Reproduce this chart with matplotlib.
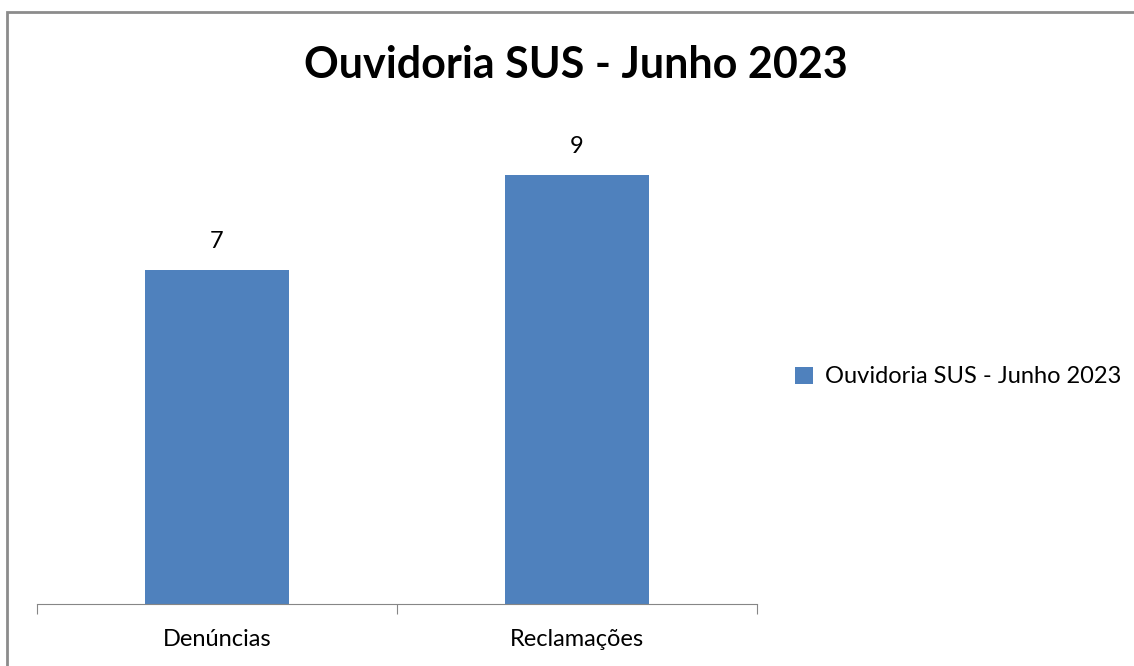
import matplotlib.pyplot as plt
from matplotlib.patches import Rectangle

# dados
categorias = ['Denúncias', 'Reclamações']
valores = [7, 9]
serie = 'Ouvidoria SUS - Junho 2023'

plt.rcParams['font.family'] = ['Lato', 'DejaVu Sans']

fig = plt.figure(figsize=(11.34, 6.66), dpi=100)
# moldura cinza (estilo Excel)
fig.patches.append(Rectangle((7 / 1134, -0.1), 1.2, 1.1 - 12 / 666,
                             transform=fig.transFigure, fill=False,
                             edgecolor='#8c8c8c', linewidth=2))

ax = fig.add_axes([37 / 1134, 62 / 666, 720 / 1134, 477 / 666])
x = range(len(categorias))
barras = ax.bar(x, valores, width=0.4, color='#4f81bd', label=serie)
ax.set_xlim(-0.5, 1.5)
ax.set_ylim(0, 10)

for b, v in zip(barras, valores):
    ax.annotate(str(v), (b.get_x() + b.get_width() / 2, v), xytext=(0, 13),
                textcoords='offset points', ha='center', va='bottom', fontsize=17)

for s in ['top', 'right', 'left']:
    ax.spines[s].set_visible(False)
ax.spines['bottom'].set_color('#868686')
ax.set_yticks([])
ax.set_xticks([-0.5, 0.5, 1.5])
ax.set_xticklabels([])
ax.set_xticks(list(x), minor=True)
ax.set_xticklabels(categorias, minor=True, fontsize=17)
ax.tick_params(axis='x', which='major', length=7, color='#868686', direction='out')
ax.tick_params(axis='x', which='minor', length=0, pad=18)

fig.text(576 / 1134, 1 - 65 / 666, serie, ha='center', va='center',
         fontsize=31, fontweight='bold')
fig.legend(loc='center left', bbox_to_anchor=(774 / 1134, 1 - 377 / 666),
           frameon=False, fontsize=17, handlelength=0.75, handleheight=0.75,
           handletextpad=0.5)

fig.savefig('out.png', dpi=100)
